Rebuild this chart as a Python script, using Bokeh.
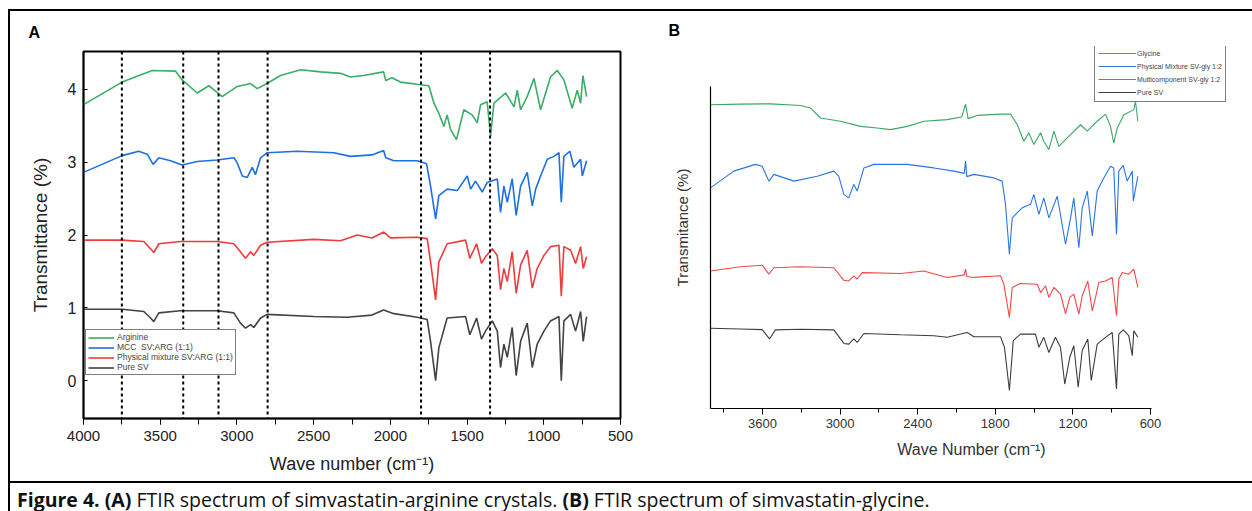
from bokeh.plotting import figure
from bokeh.models import (Range1d, SingleIntervalTicker, FixedTicker, Span, Legend,
                          LegendItem, Title, Div)
from bokeh.layouts import row, column
from bokeh.embed import file_html
from bokeh.resources import INLINE

# ---------------- Panel A data (wavenumber, transmittance offset) ----------------
a_arginine = [(4000,3.79),(3748,4.10),(3552,4.26),(3400,4.25),(3357,4.13),(3259,3.95),(3183,4.05),
              (3096,3.90),(2998,4.04),(2911,4.08),(2868,4.01),(2803,4.08),(2716,4.19),(2585,4.27),
              (2455,4.24),(2325,4.22),(2260,4.17),(2175,4.19),(2044,4.24),(2030,4.12),(1990,4.16),
              (1934,4.10),(1825,4.07),(1749,4.05),(1716,3.81),(1684,3.67),(1651,3.49),(1630,3.65),
              (1608,3.45),(1569,3.31),(1521,3.72),(1467,3.65),(1434,3.54),(1412,3.79),(1369,3.83),
              (1347,3.36),(1325,3.81),(1249,3.95),(1194,3.76),(1173,3.99),(1151,3.72),(1108,3.90),
              (1064,4.15),(1021,3.72),(956,4.17),(912,4.26),(869,4.13),(815,3.74),(782,3.99),
              (760,3.81),(745,4.19),(721,3.90)]
a_mcc = [(4000,2.86),(3748,3.09),(3640,3.15),(3585,3.11),(3546,2.97),(3509,3.06),(3433,3.02),
         (3357,2.96),(3259,3.01),(3129,3.03),(3020,3.06),(2998,2.99),(2965,2.81),(2933,2.79),
         (2900,2.93),(2879,2.83),(2846,3.06),(2803,3.13),(2607,3.15),(2368,3.13),(2260,3.08),
         (2120,3.10),(2044,3.16),(2030,3.06),(1977,3.02),(1825,3.02),(1764,2.98),(1738,2.67),
         (1705,2.22),(1684,2.54),(1630,2.63),(1564,2.61),(1499,2.81),(1477,2.63),(1445,2.74),
         (1401,2.59),(1369,2.72),(1303,2.77),(1282,2.31),(1260,2.67),(1238,2.45),(1206,2.77),
         (1180,2.27),(1151,2.67),(1108,2.86),(1075,2.40),(1053,2.63),(1021,2.81),(977,3.04),
         (934,3.08),(901,3.13),(886,2.45),(869,3.08),(830,3.15),(804,2.93),(760,3.04),
         (749,2.81),(721,3.02)]
a_physical = [(4000,1.93),(3748,1.93),(3607,1.91),(3563,1.81),(3542,1.76),(3509,1.88),(3368,1.91),
              (3129,1.91),(3020,1.88),(2977,1.77),(2944,1.68),(2911,1.77),(2890,1.72),(2846,1.86),
              (2803,1.90),(2499,1.94),(2325,1.92),(2216,2.00),(2120,1.96),(2043,2.04),(2000,1.96),
              (1825,1.97),(1760,1.95),(1738,1.63),(1705,1.11),(1684,1.63),(1630,1.88),(1510,1.93),
              (1482,1.68),(1438,1.88),(1406,1.61),(1380,1.70),(1336,1.81),(1303,1.72),(1282,1.25),
              (1260,1.54),(1238,1.36),(1206,1.77),(1180,1.20),(1151,1.59),(1108,1.79),(1075,1.27),
              (1043,1.54),(999,1.72),(956,1.84),(901,1.86),(886,1.16),(869,1.84),(825,1.79),
              (793,1.61),(760,1.84),(743,1.54),(721,1.70)]
a_pure = [(4000,0.98),(3748,0.98),(3607,0.95),(3563,0.86),(3542,0.81),(3509,0.93),(3368,0.96),
          (3129,0.96),(3020,0.93),(2977,0.79),(2944,0.72),(2911,0.77),(2890,0.73),(2846,0.86),
          (2803,0.91),(2499,0.88),(2282,0.87),(2120,0.90),(2044,0.97),(1977,0.92),(1825,0.87),
          (1760,0.84),(1738,0.54),(1705,0.00),(1684,0.45),(1630,0.86),(1510,0.88),(1482,0.63),
          (1438,0.86),(1406,0.57),(1380,0.68),(1336,0.82),(1303,0.68),(1282,0.18),(1260,0.50),
          (1238,0.32),(1206,0.73),(1180,0.07),(1151,0.54),(1108,0.79),(1075,0.18),(1043,0.50),
          (999,0.68),(956,0.82),(901,0.88),(886,0.00),(869,0.82),(825,0.91),(793,0.68),
          (760,0.95),(743,0.54),(721,0.88)]
a_dashed = [3750, 3350, 3120, 2800, 1800, 1350]
a_labels = ["Arginine", "MCC  SV:ARG (1:1)", "Physical mixture SV:ARG (1:1)", "Pure SV"]

# ---------------- Panel B data (arbitrary transmittance units) ----------------
b_glycine = [(4002,9.43),(3770,9.45),(3538,9.46),(3306,9.41),(3229,9.33),(3152,9.02),(2997,8.92),
             (2842,8.76),(2713,8.71),(2610,8.66),(2481,8.76),(2353,8.92),(2172,8.97),(2060,9.05),
             (2030,9.45),(2010,9.00),(1940,9.10),(1760,9.14),(1682,9.14),(1630,8.81),(1579,8.30),
             (1541,8.56),(1502,8.20),(1450,8.56),(1425,8.30),(1386,8.04),(1347,8.61),(1309,8.14),
             (1244,8.40),(1141,8.81),(1089,8.61),(1012,8.92),(948,9.14),(909,8.76),(884,8.24),
             (857,8.71),(806,9.12),(729,9.28),(716,9.54),(698,8.92)]
b_physical = [(4002,6.85),(3822,7.37),(3654,7.58),(3602,7.52),(3551,7.06),(3512,7.27),(3357,7.06),
              (3177,7.21),(3048,7.37),(3010,7.21),(2971,6.65),(2933,6.54),(2894,6.96),(2868,6.75),
              (2816,7.47),(2739,7.58),(2481,7.58),(2275,7.47),(2120,7.37),(2040,7.30),(2030,7.68),
              (2020,7.20),(1966,7.27),(1811,7.16),(1747,7.06),(1721,6.34),(1691,4.79),(1669,5.92),
              (1592,6.23),(1528,6.34),(1502,6.65),(1463,6.03),(1425,6.54),(1386,5.92),(1321,6.59),
              (1257,5.10),(1218,5.92),(1193,6.54),(1154,4.99),(1128,6.23),(1089,6.75),(1050,5.36),
              (1012,6.75),(961,7.16),(909,7.52),(884,7.47),(863,5.41),(845,7.37),(811,7.55),
              (780,7.06),(741,7.37),(733,6.44),(698,7.21)]
b_multi = [(4002,4.27),(3770,4.40),(3602,4.45),(3551,4.17),(3512,4.37),(3306,4.40),(3048,4.37),
           (2971,3.98),(2933,3.96),(2894,4.12),(2868,4.02),(2829,4.22),(2533,4.19),(2353,4.27),
           (2172,4.07),(2040,4.15),(2030,4.33),(2020,4.10),(1966,4.07),(1760,4.12),(1734,3.86),
           (1691,2.83),(1669,3.76),(1605,3.88),(1476,3.86),(1450,3.60),(1411,3.81),(1386,3.45),
           (1347,3.76),(1296,3.55),(1257,2.95),(1224,3.45),(1193,3.55),(1154,2.93),(1128,3.50),
           (1085,3.96),(1050,3.03),(1025,3.45),(1000,3.91),(948,3.96),(896,4.07),(863,2.88),
           (845,4.02),(819,4.22),(768,4.17),(729,4.33),(698,3.76)]
b_pure = [(4002,2.49),(3770,2.47),(3602,2.45),(3546,2.16),(3500,2.44),(3306,2.46),(3048,2.44),
          (2971,2.02),(2933,2.00),(2894,2.16),(2868,2.05),(2816,2.33),(2533,2.29),(2275,2.26),
          (2172,2.21),(2017,2.36),(1966,2.23),(1760,2.23),(1729,1.90),(1691,0.56),(1661,2.11),
          (1605,2.31),(1489,2.31),(1463,1.90),(1425,2.21),(1386,1.74),(1335,2.21),(1296,1.90),
          (1263,0.76),(1224,1.59),(1193,1.95),(1159,0.66),(1128,1.80),(1085,2.16),(1058,0.87),
          (1012,2.00),(948,2.21),(896,2.36),(863,0.61),(845,2.31),(811,2.44),(768,2.26),
          (741,1.64),(729,2.41),(698,2.21)]
b_labels = ["Glycine", "Physical Mixture SV-gly 1:2", "Multicomponent SV-gly 1:2", "Pure SV"]

a_colors = ["#3aad66", "#1f6fe0", "#ef3b3b", "#434343"]
b_colors = ["#3aa862", "#2a74e6", "#f04848", "#3d3d3d"]

AX_FONT = "Liberation Sans"

def xy(pairs):
    return [p[0] for p in pairs], [p[1] for p in pairs]

# ---------------- Panel A ----------------
pA = figure(width=640, height=470, x_range=Range1d(4000, 500), y_range=Range1d(-0.52, 4.52),
            output_backend="svg", toolbar_location=None, frame_align=False,
            min_border_left=73, min_border_right=30, min_border_top=37, min_border_bottom=63)
pA.grid.visible = False
pA.outline_line_color = "black"
pA.outline_line_width = 2
pA.background_fill_color = "white"
pA.border_fill_color = "white"

for loc in a_dashed:
    pA.add_layout(Span(location=loc, dimension="height", line_color="black",
                       line_width=2, line_dash="3 3"))

itemsA = []
for series, col, lab in zip([a_arginine, a_mcc, a_physical, a_pure], a_colors, a_labels):
    xs, ys = xy(series)
    r = pA.line(xs, ys, line_color=col, line_width=1.6)
    itemsA.append(LegendItem(label=lab, renderers=[r]))

legA = Legend(items=itemsA, location=(2, 43), label_text_font=AX_FONT,
              label_text_font_size="8.5px", label_height=9, glyph_height=9, glyph_width=26,
              spacing=0, padding=2, margin=0, label_standoff=3,
              border_line_color="black", border_line_width=1, background_fill_alpha=1)
pA.add_layout(legA, "center")

pA.xaxis.ticker = SingleIntervalTicker(interval=500, num_minor_ticks=2)
pA.yaxis.ticker = FixedTicker(ticks=[0, 1, 2, 3, 4])
for ax in (pA.xaxis[0], pA.yaxis[0]):
    ax.axis_line_color = "black"
    ax.axis_line_width = 1.5
    ax.major_label_text_font = AX_FONT
    ax.axis_label_text_font = AX_FONT
    ax.axis_label_text_font_style = "normal"
    ax.major_label_text_color = "#222222"
    ax.axis_label_text_color = "#222222"
pA.xaxis.major_tick_out = 6
pA.xaxis.major_tick_in = 0
pA.xaxis.minor_tick_out = 6
pA.xaxis.minor_tick_in = 0
pA.xaxis.major_label_text_font_size = "15px"
pA.xaxis.major_label_standoff = 6
pA.xaxis.axis_label = "Wave number (cm\u207b\u00b9)"
pA.xaxis.axis_label_text_font_size = "18px"
pA.xaxis.axis_label_standoff = 10
pA.yaxis.major_tick_out = 0
pA.yaxis.major_tick_in = 4
pA.yaxis.minor_tick_out = 0
pA.yaxis.minor_tick_in = 0
pA.yaxis.major_label_text_font_size = "16px"
pA.yaxis.major_label_standoff = 7
pA.yaxis.axis_label = "Transmittance (%)"
pA.yaxis.axis_label_text_font_size = "19px"
pA.yaxis.axis_label_standoff = 14
pA.add_layout(Title(text="A", align="left", offset=-55, standoff=21, text_font=AX_FONT,
                    text_font_size="16px", text_font_style="bold", text_color="black"), "above")

# ---------------- Panel B ----------------
pB = figure(width=602, height=470, x_range=Range1d(4002, -34), y_range=Range1d(0, 11.24),
            output_backend="svg", toolbar_location=None, frame_align=False,
            min_border_left=60, min_border_right=20, min_border_top=34, min_border_bottom=73)
pB.grid.visible = False
pB.outline_line_color = None
pB.background_fill_color = "white"
pB.border_fill_color = "white"

itemsB = []
for series, col, lab in zip([b_glycine, b_physical, b_multi, b_pure], b_colors, b_labels):
    xs, ys = xy(series)
    r = pB.line(xs, ys, line_color=col, line_width=1.1)
    itemsB.append(LegendItem(label=lab, renderers=[r]))

legB = Legend(items=itemsB, location=(384, 306), label_text_font=AX_FONT,
              label_text_font_size="7px", label_height=12, glyph_height=12, glyph_width=38,
              spacing=1, padding=3, margin=0, label_standoff=1,
              border_line_color="black", border_line_width=1, background_fill_alpha=1)
pB.add_layout(legB, "center")

pB.xaxis.ticker = SingleIntervalTicker(interval=600, num_minor_ticks=2)
pB.xaxis.bounds = (592, 4002)
pB.yaxis.ticker = FixedTicker(ticks=[])
pB.yaxis.bounds = (0, 10)
for ax in (pB.xaxis[0], pB.yaxis[0]):
    ax.axis_line_color = "black"
    ax.axis_line_width = 1.2
    ax.major_label_text_font = AX_FONT
    ax.axis_label_text_font = AX_FONT
    ax.axis_label_text_font_style = "normal"
    ax.major_label_text_color = "#333333"
    ax.axis_label_text_color = "#333333"
pB.xaxis.major_tick_out = 6
pB.xaxis.major_tick_in = 0
pB.xaxis.minor_tick_out = 4
pB.xaxis.minor_tick_in = 0
pB.xaxis.major_label_text_font_size = "13px"
pB.xaxis.major_label_standoff = 4
pB.xaxis.axis_label = "Wave Number (cm\u207b\u00b9)"
pB.xaxis.axis_label_text_font_size = "16px"
pB.xaxis.axis_label_standoff = 10
pB.yaxis.major_label_text_font_size = "0px"
pB.yaxis.axis_label = "Transmitance (%)"
pB.yaxis.axis_label_text_font_size = "15px"
pB.yaxis.axis_label_standoff = 20
pB.add_layout(Title(text="B", align="left", offset=-42, standoff=16, text_font=AX_FONT,
                    text_font_size="16px", text_font_style="bold", text_color="black"), "above")

# ---------------- Caption ----------------
caption = Div(text="<b>Figure 4. (A)</b> FTIR spectrum of simvastatin-arginine crystals. "
                   "<b>(B)</b> FTIR spectrum of simvastatin-glycine.",
              width=1200, height=26,
              styles={"font-family": "'Open Sans'", "font-size": "19.5px", "color": "#111",
                      "padding-left": "2px", "line-height": "24px"})

panels = row(pA, pB, styles={"border-bottom": "2px solid black"})
root = column(panels, caption,
              styles={"border-top": "2px solid black", "border-left": "2px solid black",
                      "margin-left": "8px", "margin-top": "9px"})

open("out.html", "w").write(file_html(root, INLINE))
